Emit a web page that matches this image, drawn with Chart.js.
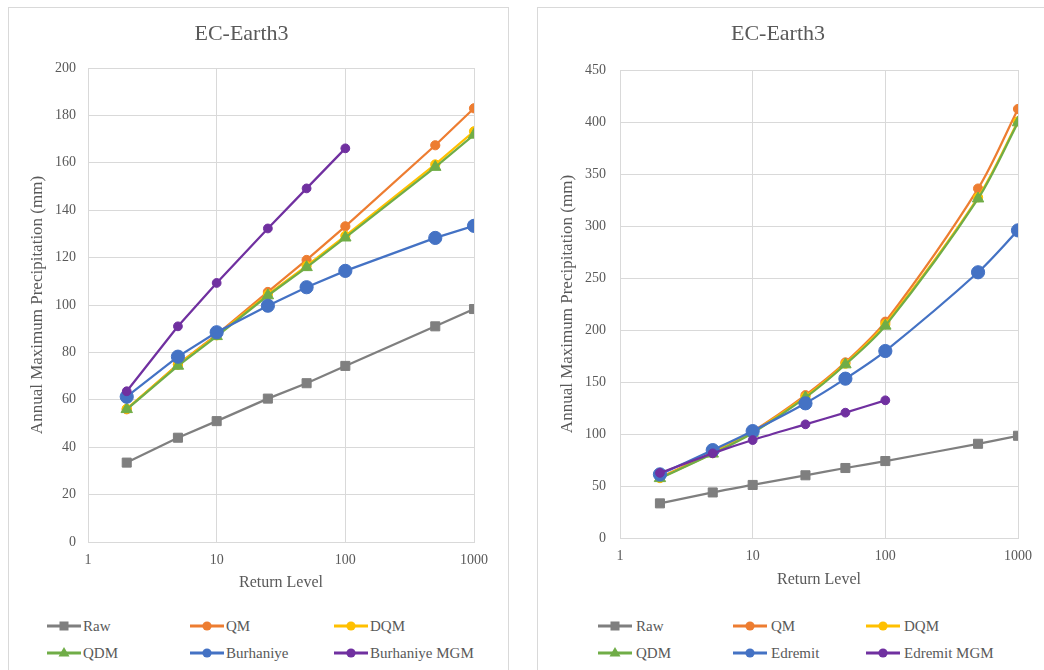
<!DOCTYPE html>
<html>
<head>
<meta charset="utf-8">
<script src="https://cdn.jsdelivr.net/npm/chart.js@4.4.0/dist/chart.umd.min.js"></script>
<style>
  html, body { margin: 0; padding: 0; background: #fff; width: 1044px; height: 670px; overflow: hidden; position: relative;
    font-family: "Liberation Serif", "Times New Roman", serif; }
  .panel { position: absolute; top: 7px; height: 700px; border: 1px solid #d9d9d9; box-sizing: border-box; }
  #panelL { left: 8px; width: 501px; }
  #panelR { left: 537px; width: 540px; }
  canvas { position: absolute; }
  #chartL { left: 9px; top: 8px; }
  #chartR { left: 538px; top: 8px; }
  .lg { position: absolute; display: flex; align-items: center; height: 20px; color: #595959; font-size: 15px; white-space: nowrap; }
  .lg svg { display: block; }
</style>
</head>
<body>
<div class="panel" id="panelL"></div>
<div class="panel" id="panelR"></div>
<canvas id="chartL" width="498" height="600"></canvas>
<canvas id="chartR" width="514" height="600"></canvas>
<div id="legends"></div>
<script>
// Return periods (years) on the x axis
const returnPeriods = [2, 5, 10, 25, 50, 100, 500, 1000];
const stationPeriods = [2, 5, 10, 25, 50, 100];
const xTickValues = [1, 10, 100, 1000];
const chartTitle = 'EC-Earth3';
const xAxisTitle = 'Return Level';
const yAxisTitle = 'Annual Maximum Precipitation (mm)';

// Burhaniye: annual maximum precipitation (mm)
const burhaniyeNames = ['Raw', 'QM', 'DQM', 'QDM', 'Burhaniye', 'Burhaniye MGM'];
const burhaniyeRaw = [33.5, 44, 51, 60.5, 67, 74.3, 91, 98.3];
const burhaniyeQM  = [56, 75, 87.5, 105.5, 119, 133.2, 167.4, 183];
const burhaniyeDQM = [56.2, 74.8, 87.2, 104.5, 116.5, 129.2, 159.3, 173.3];
const burhaniyeQDM = [56, 74.3, 86.8, 104, 115.9, 128.4, 158.2, 171.8];
const burhaniyeObs = [61.3, 78.2, 88.5, 99.7, 107.5, 114.4, 128.3, 133.4];
const burhaniyeMGM = [63.6, 91, 109.3, 132.3, 149.2, 166.1];
const burhaniyeYTicks = { max: 200, step: 20 };

// Edremit: annual maximum precipitation (mm)
const edremitNames = ['Raw', 'QM', 'DQM', 'QDM', 'Edremit', 'Edremit MGM'];
const edremitRaw = [33.3, 43.8, 51, 60.3, 67.3, 74, 90.6, 98.3];
const edremitQM  = [58, 82.5, 102.5, 137.3, 168.8, 208, 336, 412.5];
const edremitDQM = [57.6, 81.6, 101.6, 135.8, 167.6, 205.6, 327.6, 400.6];
const edremitQDM = [57.4, 81, 101, 135, 166.8, 204, 326.3, 399.5];
const edremitObs = [61.2, 84.5, 102.8, 129.5, 153.2, 179.8, 255.5, 295.8];
const edremitMGM = [62.6, 81.4, 94.2, 109.3, 120.5, 132.4];
const edremitYTicks = { max: 450, step: 50 };

// Series appearance, in legend order
const seriesStyles = [
  { color: '#7f7f7f', shape: 'rect',     radius: 6.4 },
  { color: '#ed7d31', shape: 'circle',   radius: 4.6 },
  { color: '#ffc000', shape: 'circle',   radius: 4.6 },
  { color: '#70ad47', shape: 'triangle', radius: 6.6 },
  { color: '#4472c4', shape: 'circle',   radius: 6.6 },
  { color: '#7030a0', shape: 'circle',   radius: 4.4 }
];

const FONT = '"Liberation Serif", "Times New Roman", serif';
const TEXT = '#595959';
const GRID = '#d9d9d9';

function toPoints(periods, values) {
  return values.map((v, i) => ({ x: periods[i], y: v }));
}

function buildDatasets(names, seriesValues, tension) {
  return names.map((name, i) => {
    const st = seriesStyles[i];
    const periods = seriesValues[i].length === stationPeriods.length ? stationPeriods : returnPeriods;
    return {
      label: name,
      data: toPoints(periods, seriesValues[i]),
      borderColor: st.color,
      backgroundColor: st.color,
      borderWidth: 2.25,
      pointStyle: st.shape,
      pointRadius: st.radius,
      pointBorderWidth: 1,
      pointBorderColor: st.color,
      pointBackgroundColor: st.color,
      tension: tension,
      order: names.length - i
    };
  });
}

function makeChart(id, names, seriesValues, yTicks, lay) {
  return new Chart(document.getElementById(id), {
    type: 'line',
    data: { datasets: buildDatasets(names, seriesValues, lay.tension) },
    options: {
      responsive: false,
      animation: false,
      layout: { padding: { left: 0, right: lay.padRight, top: 0, bottom: 0 } },
      plugins: {
        legend: { display: false },
        tooltip: { enabled: false },
        title: {
          display: true, text: chartTitle, color: TEXT,
          font: { family: FONT, size: 22, weight: 'normal' },
          padding: { top: 13, bottom: lay.titleBottom }
        }
      },
      scales: {
        x: {
          type: 'logarithmic', min: 1, max: 1000,
          afterBuildTicks: s => { s.ticks = xTickValues.map(v => ({ value: v })); },
          afterFit: s => { s.height = lay.xHeight; },
          ticks: {
            callback: v => String(v), autoSkip: false, maxRotation: 0,
            color: TEXT, font: { family: FONT, size: 14 }, padding: lay.xTickPad
          },
          grid: { color: GRID, lineWidth: 1, drawTicks: false },
          border: { color: GRID },
          title: {
            display: true, text: xAxisTitle, color: TEXT,
            font: { family: FONT, size: 16 }, padding: { top: 0, bottom: lay.xTitlePad }
          }
        },
        y: {
          min: 0, max: yTicks.max,
          afterFit: s => { s.width = lay.yWidth; },
          ticks: {
            stepSize: yTicks.step, color: TEXT,
            font: { family: FONT, size: 14 }, padding: lay.yTickPad
          },
          grid: { color: GRID, lineWidth: 1, drawTicks: false },
          border: { color: GRID },
          title: {
            display: true, text: yAxisTitle, color: TEXT,
            font: { family: FONT, size: 17 }, padding: { top: lay.yTitlePad, bottom: 0 }
          }
        }
      }
    }
  });
}

makeChart('chartL', burhaniyeNames,
  [burhaniyeRaw, burhaniyeQM, burhaniyeDQM, burhaniyeQDM, burhaniyeObs, burhaniyeMGM],
  burhaniyeYTicks,
  { tension: 0, padRight: 33, titleBottom: 20.6, xHeight: 66, xTickPad: 10, xTitlePad: 15.4,
    yWidth: 79, yTickPad: 12, yTitlePad: 18.8 });

makeChart('chartR', edremitNames,
  [edremitRaw, edremitQM, edremitDQM, edremitQDM, edremitObs, edremitMGM],
  edremitYTicks,
  { tension: 0.3, padRight: 34, titleBottom: 22.6, xHeight: 70, xTickPad: 10.3, xTitlePad: 18.4,
    yWidth: 82, yTickPad: 14, yTitlePad: 19.8 });

// Legend: two rows of three entries under each chart
function markerSvg(st) {
  const c = st.color, cx = 17, cy = 10;
  let shape;
  if (st.shape === 'rect') shape = `<rect x="${cx - 4.5}" y="${cy - 4.5}" width="9" height="9" fill="${c}"/>`;
  else if (st.shape === 'triangle') shape = `<polygon points="${cx},${cy - 6} ${cx + 5.5},${cy + 3.5} ${cx - 5.5},${cy + 3.5}" fill="${c}"/>`;
  else shape = `<circle cx="${cx}" cy="${cy}" r="4.6" fill="${c}"/>`;
  return `<svg width="34" height="20"><line x1="0" y1="${cy}" x2="34" y2="${cy}" stroke="${c}" stroke-width="3"/>${shape}</svg>`;
}

function addLegend(names, columns, rows, gap) {
  const host = document.getElementById('legends');
  names.forEach((name, i) => {
    const el = document.createElement('div');
    el.className = 'lg';
    el.style.left = columns[i % 3] + 'px';
    el.style.top = (rows[Math.floor(i / 3)] - 10) + 'px';
    el.innerHTML = markerSvg(seriesStyles[i]) + `<span style="margin-left:${gap}px">${name}</span>`;
    host.appendChild(el);
  });
}

addLegend(burhaniyeNames, [47, 190, 334], [626, 653], 2);
addLegend(edremitNames, [598, 733, 866], [626, 653], 4);
</script>
</body>
</html>
